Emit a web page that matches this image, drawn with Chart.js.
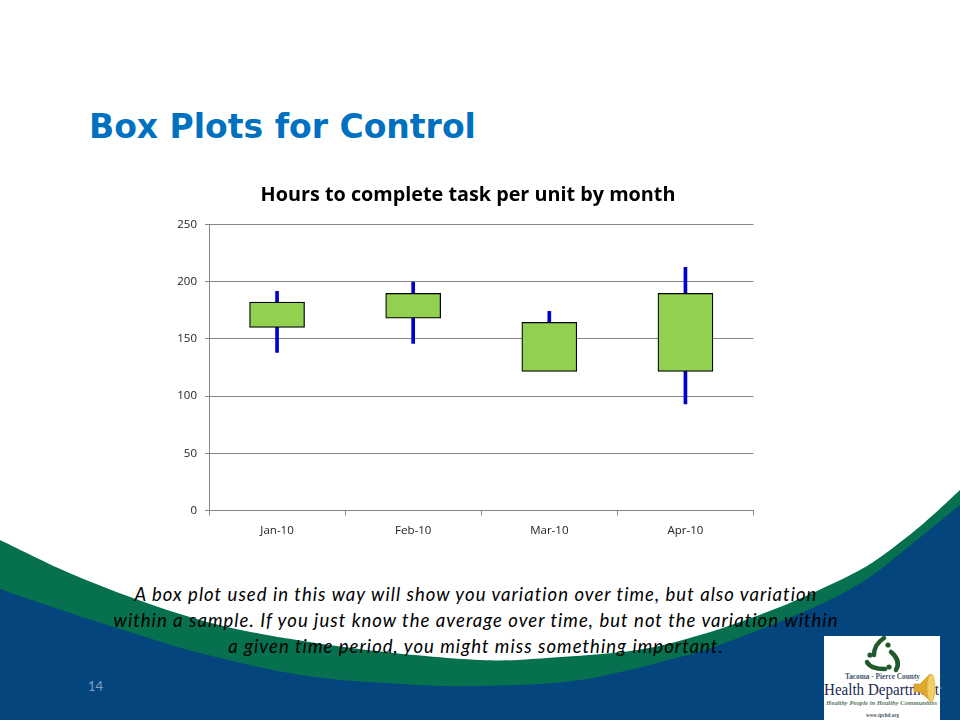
<!DOCTYPE html>
<html>
<head>
<meta charset="utf-8">
<title>Box Plots for Control</title>
<script src="https://cdn.jsdelivr.net/npm/chart.js@4/dist/chart.umd.min.js"></script>
<style>
  html, body { margin: 0; padding: 0; background: #fff; }
  #slide { position: relative; width: 960px; height: 720px; overflow: hidden; background: #fff; }
  #bg, #logo { position: absolute; overflow: visible; }
  #bg { left: 0; top: 0; }
  #logo { left: 824px; top: 636px; }
  #heading { position: absolute; left: 89px; top: 107px; margin: 0; font: bold 33px "DejaVu Sans", sans-serif; color: #0070c0; white-space: nowrap; }
  #wrap { position: absolute; left: 168px; top: 175px; width: 600px; height: 370px; }
  #note { position: absolute; left: 76px; top: 581px; width: 800px; text-align: center; font: italic 18.5px/26px Lato, sans-serif; letter-spacing: 1.04px; color: #000; }
  #note div { white-space: nowrap; }
  #page { position: absolute; left: 88px; top: 678px; font: 13px Lato, sans-serif; color: #7f9fc4; }
</style>
</head>
<body>
<div id="slide">
  <svg id="bg" width="960" height="720" viewBox="0 0 960 720">
    <path id="greenBand" fill="#07704f"/>
    <path id="blueBand" fill="#03457c"/>
  </svg>

  <h1 id="heading">Box Plots for Control</h1>

  <div id="wrap"><canvas id="boxChart" width="600" height="370"></canvas></div>

  <div id="note">
    <div>A box plot used in this way will show you variation over time, but also variation</div>
    <div>within a sample. If you just know the average over time, but not the variation within</div>
    <div>a given time period, you might miss something important.</div>
  </div>

  <div id="page">14</div>

  <svg id="logo" width="116" height="84" viewBox="0 0 116 84">
    <rect width="116" height="84" fill="#fff"/>
    <g fill="none" stroke="#1f5a2c" stroke-width="4.5" stroke-linecap="round">
      <path d="M60 2 C54 6 50 12 50 19"/>
      <path d="M43 26 C46 32 54 33 61 33"/>
      <path d="M67 16 C73 21 76 27 72 34"/>
    </g>
    <g fill="#1f5a2c">
      <circle cx="64" cy="9" r="2.6"/>
      <circle cx="46" cy="19" r="2.6"/>
      <circle cx="65" cy="31" r="2.6"/>
    </g>
    <text x="58.5" y="43" text-anchor="middle" font-family="Liberation Serif" font-size="8" font-weight="bold" fill="#45556b" textLength="75" lengthAdjust="spacingAndGlyphs">Tacoma - Pierce County</text>
    <text x="0" y="59" font-family="Liberation Serif" font-size="17" fill="#1b2a55" textLength="115" lengthAdjust="spacingAndGlyphs">Health Department</text>
    <text x="57.5" y="69" text-anchor="middle" font-family="Liberation Serif" font-size="6.5" font-style="italic" font-weight="bold" fill="#5b7a5d" textLength="111" lengthAdjust="spacingAndGlyphs">Healthy People in Healthy Communities</text>
    <text x="58.5" y="81" text-anchor="middle" font-family="Liberation Serif" font-size="5.5" font-weight="bold" fill="#45556b" textLength="33" lengthAdjust="spacingAndGlyphs">www.tpchd.org</text>
    <path d="M90 48 L96 48 L106 38 L108 66 L96 56 L90 56 Z" fill="#e0a92e" stroke="#b3851f" stroke-width="0.5"/>
    <ellipse cx="107" cy="52" rx="4" ry="14" fill="#f2cf62" stroke="#c99a2a" stroke-width="0.5"/>
    <g stroke="#dfe8f2" stroke-width="0.6" stroke-dasharray="1.5 1.5" fill="none">
      <path d="M112 44 L117 40"/>
      <path d="M113 52 L119 52"/>
      <path d="M112 60 L117 64"/>
    </g>
  </svg>
</div>

<script>
var months = ['Jan-10', 'Feb-10', 'Mar-10', 'Apr-10'];
var whiskerLow = [138, 146, 124, 93];
var boxLow = [160, 168, 121.5, 121.5];
var boxHigh = [182, 189.7, 164.3, 189.7];
var whiskerHigh = [191.5, 199.5, 174, 212.4];
var yTicks = [0, 50, 100, 150, 200, 250];

var axisGrey = '#868686';
var labelFont = { family: 'Open Sans', size: 11.5 };

function pairUp(lows, highs) {
  return lows.map(function (v, i) { return [v, highs[i]]; });
}

// slide background curves, smoothed through points
function bandPath(pts) {
  var d = 'M' + pts[0][0] + ' ' + pts[0][1];
  for (var i = 0; i < pts.length - 1; i++) {
    var p0 = pts[Math.max(i - 1, 0)], p1 = pts[i], p2 = pts[i + 1];
    var p3 = pts[Math.min(i + 2, pts.length - 1)];
    d += ' C' + (p1[0] + (p2[0] - p0[0]) / 6) + ' ' + (p1[1] + (p2[1] - p0[1]) / 6) +
         ' ' + (p2[0] - (p3[0] - p1[0]) / 6) + ' ' + (p2[1] - (p3[1] - p1[1]) / 6) +
         ' ' + p2[0] + ' ' + p2[1];
  }
  return d + ' L960 720 L0 720 Z';
}
document.getElementById('greenBand').setAttribute('d', bandPath([
  [0, 540], [67, 572], [133, 598], [200, 620], [267, 635], [367, 650], [480, 660], [547, 658],
  [637, 650], [700, 635], [767, 612], [817, 591], [867, 566], [907, 537], [933, 515], [960, 490]
]));
document.getElementById('blueBand').setAttribute('d', bandPath([
  [0, 589], [67, 612], [133, 633], [200, 653], [300, 675], [400, 684], [480, 686],
  [580, 680], [680, 657], [733, 640], [817, 606], [867, 579], [907, 548], [933, 527], [960, 505]
]));

new Chart(document.getElementById('boxChart'), {
  type: 'bar',
  data: {
    labels: months,
    datasets: [
      {
        label: 'Box',
        data: pairUp(boxLow, boxHigh),
        backgroundColor: '#92d050',
        borderColor: '#000',
        borderWidth: 1.25,
        borderSkipped: false,
        barThickness: 55,
        order: 1
      },
      {
        label: 'Whisker',
        data: pairUp(whiskerLow, whiskerHigh),
        backgroundColor: '#0000cc',
        borderWidth: 0,
        barThickness: 3,
        order: 2
      }
    ]
  },
  options: {
    responsive: false,
    animation: false,
    plugins: {
      legend: { display: false },
      tooltip: { enabled: false },
      title: {
        display: true,
        text: 'Hours to complete task per unit by month',
        color: '#000',
        font: { family: 'Open Sans', size: 19.8, weight: 'bold' },
        padding: { top: 8, bottom: 17.5 }
      }
    },
    scales: {
      x: {
        stacked: false,
        grid: { offset: true, drawOnChartArea: false, drawTicks: true, tickLength: 5, color: axisGrey },
        border: { color: axisGrey },
        ticks: { color: '#222', font: labelFont, padding: 8, maxRotation: 0 },
        afterFit: function (scale) { scale.height = 34.5; }
      },
      y: {
        min: 0,
        max: 250,
        afterBuildTicks: function (scale) {
          scale.ticks = yTicks.map(function (v) { return { value: v }; });
        },
        grid: { color: axisGrey, tickLength: 4 },
        border: { color: axisGrey },
        ticks: { color: '#222', font: labelFont, padding: 8 },
        afterFit: function (scale) { scale.width = 41; }
      },
      // empty axis, only holds the plot clear of the right edge so the title stays centred on the canvas
      spacer: {
        position: 'right',
        grid: { display: false },
        border: { display: false },
        ticks: { display: false },
        afterFit: function (scale) { scale.width = 14.5; }
      }
    },
    datasets: { bar: { grouped: false } }
  }
});
</script>
</body>
</html>
